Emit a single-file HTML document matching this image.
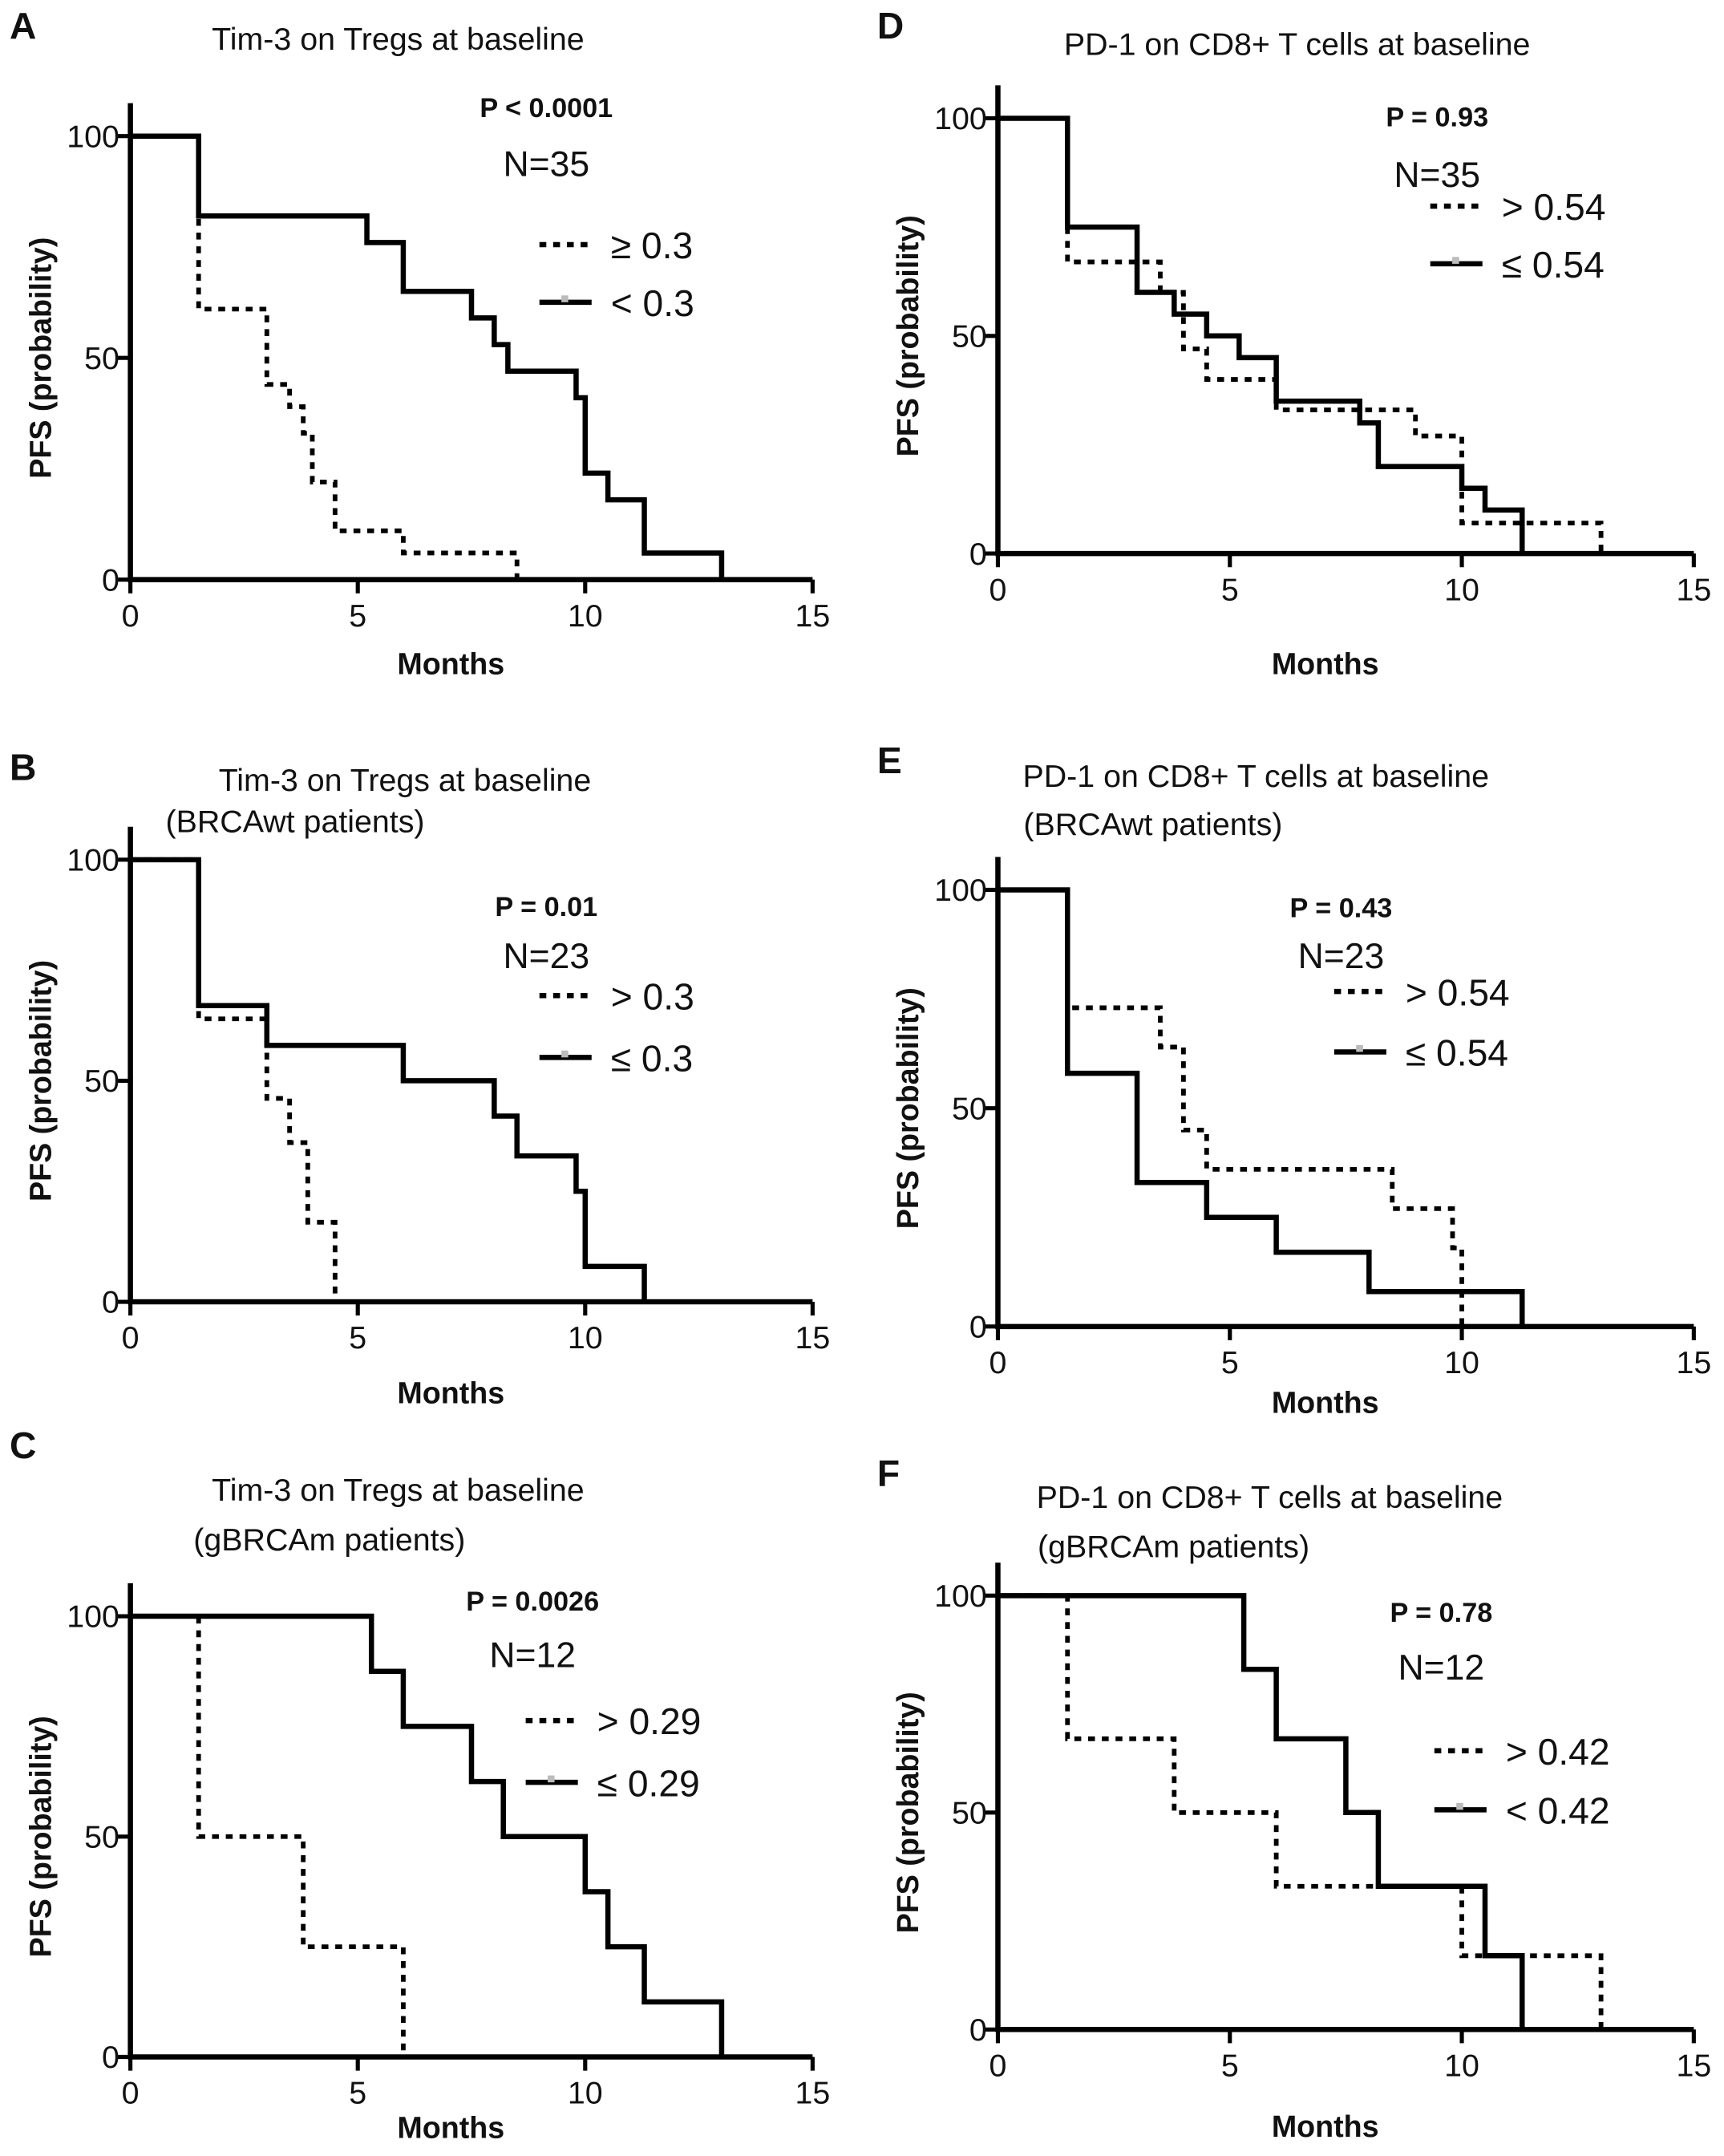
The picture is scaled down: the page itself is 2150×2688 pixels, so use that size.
<!DOCTYPE html>
<html><head><meta charset="utf-8"><style>
html,body{margin:0;padding:0;background:#fff}
svg{display:block}
text{font-family:"Liberation Sans",sans-serif;fill:#111}
</style></head><body>
<svg id="fig" xmlns="http://www.w3.org/2000/svg" width="2150" height="2688" viewBox="0 0 1256 1570"></svg>
<script>
// Panel data: step times (months) and survival values (%)
const aDashT=[1.5,3,3.5,3.8,4,4.5,6,8.5];
const aDashS=[61,44,39,33,22,11,6,0];
const aSolT=[1.5,5.2,6,7.5,8,8.3,9.8,10,10.5,11.3,13];
const aSolS=[82,76,65,59,53,47,41,24,18,6,0];
const bDashT=[1.5,3,3.5,3.9,4.5];
const bDashS=[64,46,36,18,0];
const bSolT=[1.5,3,6,8,8.5,9.8,10,11.3];
const bSolS=[67,58,50,42,33,25,8,0];
const cDashT=[1.5,3.8,6];
const cDashS=[50,25,0];
const cSolT=[5.3,6,7.5,8.2,10,10.5,11.3,13];
const cSolS=[87.5,75,62.5,50,37.5,25,12.5,0];
const dDashT=[1.5,3.5,4,4.5,6,9,10,13];
const dDashS=[67,60,47,40,33,27,7,0];
const dSolT=[1.5,3,3.8,4.5,5.2,6,7.5,7.8,8.2,10,10.5,11.3];
const dSolS=[75,60,55,50,45,35,35,30,20,15,10,0];
const eDashT=[1.5,3.5,4,4.5,8.5,9.8,10];
const eDashS=[73,64,45,36,27,18,0];
const eSolT=[1.5,3,4.5,6,8,11.3];
const eSolS=[58,33,25,17,8,0];
const fDashT=[1.5,3.8,6,10,13];
const fDashS=[67,50,33,17,0];
const fSolT=[5.3,6,7.5,8.2,10.5,11.3];
const fSolS=[83,67,50,33,17,0];
const xTicks=[0,5,10,15];
const yTicks=[0,50,100];

const panels=[
 {id:'a',L:'A',x0:95,x1:592,y100:99,y0:422,t1:'Tim-3 on Tregs at baseline',t2:'',ty:36,ty2:0,sx:0,mY:491,p:'P < 0.0001',pY:78,nY:118,n:'N=35',lg1:'≥ 0.3',lg2:'< 0.3',l1:178,l2:220,lx:393,dT:aDashT,dS:aDashS,sT:aSolT,sS:aSolS,tx:290,labY:28},
 {id:'b',L:'B',x0:95,x1:592,y100:626,y0:948,t1:'Tim-3 on Tregs at baseline',t2:'(BRCAwt patients)',ty:576,ty2:606,sx:215,mY:1022,p:'P = 0.01',pY:660,nY:695,n:'N=23',lg1:'> 0.3',lg2:'≤ 0.3',l1:725,l2:770,lx:393,dT:bDashT,dS:bDashS,sT:bSolT,sS:bSolS,tx:295,labY:568},
 {id:'c',L:'C',x0:95,x1:592,y100:1177,y0:1498,t1:'Tim-3 on Tregs at baseline',t2:'(gBRCAm patients)',ty:1093,ty2:1129,sx:240,mY:1557,p:'P = 0.0026',pY:1166,nY:1204,n:'N=12',lg1:'> 0.29',lg2:'≤ 0.29',l1:1253,l2:1298,lx:383,dT:cDashT,dS:cDashS,sT:cSolT,sS:cSolS,tx:290,labY:1062},
 {id:'d',L:'D',x0:727,x1:1234,y100:86,y0:403,t1:'PD-1 on CD8+ T cells at baseline',t2:'',ty:40,ty2:0,sx:0,mY:491,p:'P = 0.93',pY:85,nY:126,n:'N=35',lg1:'> 0.54',lg2:'≤ 0.54',l1:150,l2:192,lx:1042,dT:dDashT,dS:dDashS,sT:dSolT,sS:dSolS,tx:945,labY:28},
 {id:'e',L:'E',x0:727,x1:1234,y100:648,y0:966,t1:'PD-1 on CD8+ T cells at baseline',t2:'(BRCAwt patients)',ty:573,ty2:608,sx:840,mY:1029,p:'P = 0.43',pY:661,nY:695,n:'N=23',lg1:'> 0.54',lg2:'≤ 0.54',l1:722,l2:766,lx:972,dT:eDashT,dS:eDashS,sT:eSolT,sS:eSolS,tx:915,labY:563},
 {id:'f',L:'F',x0:727,x1:1234,y100:1162,y0:1478,t1:'PD-1 on CD8+ T cells at baseline',t2:'(gBRCAm patients)',ty:1098,ty2:1134,sx:855,mY:1556,p:'P = 0.78',pY:1174,nY:1213,n:'N=12',lg1:'> 0.42',lg2:'< 0.42',l1:1275,l2:1318,lx:1045,dT:fDashT,dS:fDashS,sT:fSolT,sS:fSolS,tx:925,labY:1082}
];
const NS='http://www.w3.org/2000/svg';
const svg=document.getElementById('fig');
function mk(tag,attrs,parent,txt){const e=document.createElementNS(NS,tag);for(const k in attrs)e.setAttribute(k,attrs[k]);if(txt!==undefined)e.textContent=txt;parent.appendChild(e);return e;}
function stepPath(T,S,xs,ys){let d='M'+xs(0)+','+ys(100);for(let i=0;i<T.length;i++){d+=' H'+xs(T[i])+' V'+ys(S[i]);}return d;}
panels.forEach(p=>{
 const g=mk('g',{},svg);
 
 
 const xs=v=>p.x0+(p.x1-p.x0)*v/15;
 const ys=v=>p.y0+(p.y100-p.y0)*v/100;
 const lab=mk('text',{x:p.x0-88,y:p.labY,'font-size':27,'font-weight':'bold'},g,p.L);
 
 
 const t=mk('text',{x:p.tx,y:p.ty,'font-size':23,'text-anchor':'middle',fill:'#222'},g,p.t1);
 
 
 if(p.t2){const t2=mk('text',{x:p.sx,y:p.ty2,'font-size':23,'text-anchor':'middle',fill:'#222'},g,p.t2);
  
  }
 const ax=mk('path',{d:'M'+p.x0+','+(p.y100-24)+' V'+p.y0+' H'+p.x1,stroke:'#000','stroke-width':3.8,fill:'none'},g);
 
 
 xTicks.forEach(v=>{mk('line',{x1:xs(v),x2:xs(v),y1:p.y0,y2:p.y0+10,stroke:'#000','stroke-width':3},g);
  const tl=mk('text',{x:xs(v),y:p.y0+34,'font-size':23,'text-anchor':'middle'},g,v);
  
  });
 yTicks.forEach(v=>{mk('line',{x1:p.x0-10,x2:p.x0,y1:ys(v),y2:ys(v),stroke:'#000','stroke-width':3},g);
  const tl=mk('text',{x:p.x0-8,y:ys(v)+8,'font-size':23,'text-anchor':'end'},g,v);
  
  });
 const mt=mk('text',{x:(p.x0+p.x1)/2-15,y:p.mY,'font-size':22,'font-weight':'bold','text-anchor':'middle'},g,'Months');
 
 
 const yc=(p.y0+p.y100)/2;
 const yt=mk('text',{x:0,y:0,'font-size':22,'font-weight':'bold','text-anchor':'middle',transform:'translate('+(p.x0-58)+','+yc+') rotate(-90)'},g,'PFS (probability)');
 
 
 const ds=mk('path',{d:stepPath(p.dT,p.dS,xs,ys),stroke:'#000','stroke-width':3.4,fill:'none','stroke-dasharray':'5,5'},g);
 
 
 const ss=mk('path',{d:stepPath(p.sT,p.sS,xs,ys),stroke:'#000','stroke-width':3.8,fill:'none'},g);
 
 
 const pt=mk('text',{x:p.lx+5,y:p.pY+7,'font-size':20,'font-weight':'bold','text-anchor':'middle'},g,p.p);
 
 
 const nt=mk('text',{x:p.lx+5,y:p.nY+10,'font-size':26,'text-anchor':'middle','fill':'#333'},g,p.n);
 
 
 const e1=mk('g',{},g);
 
 
 mk('line',{x1:p.lx,x2:p.lx+38,y1:p.l1,y2:p.l1,stroke:'#000','stroke-width':3.8,'stroke-dasharray':'5,5'},e1);
 mk('text',{x:p.lx+52,y:p.l1+10,'font-size':27,fill:'#333'},e1,p.lg1);
 const e2=mk('g',{},g);
 
 
 mk('line',{x1:p.lx,x2:p.lx+38,y1:p.l2,y2:p.l2,stroke:'#000','stroke-width':3.8},e2);
 mk('rect',{x:p.lx+16,y:p.l2-5,width:5,height:5,fill:'#bbb'},e2);
 mk('text',{x:p.lx+52,y:p.l2+10,'font-size':27,fill:'#333'},e2,p.lg2);
});
</script>
</body></html>
